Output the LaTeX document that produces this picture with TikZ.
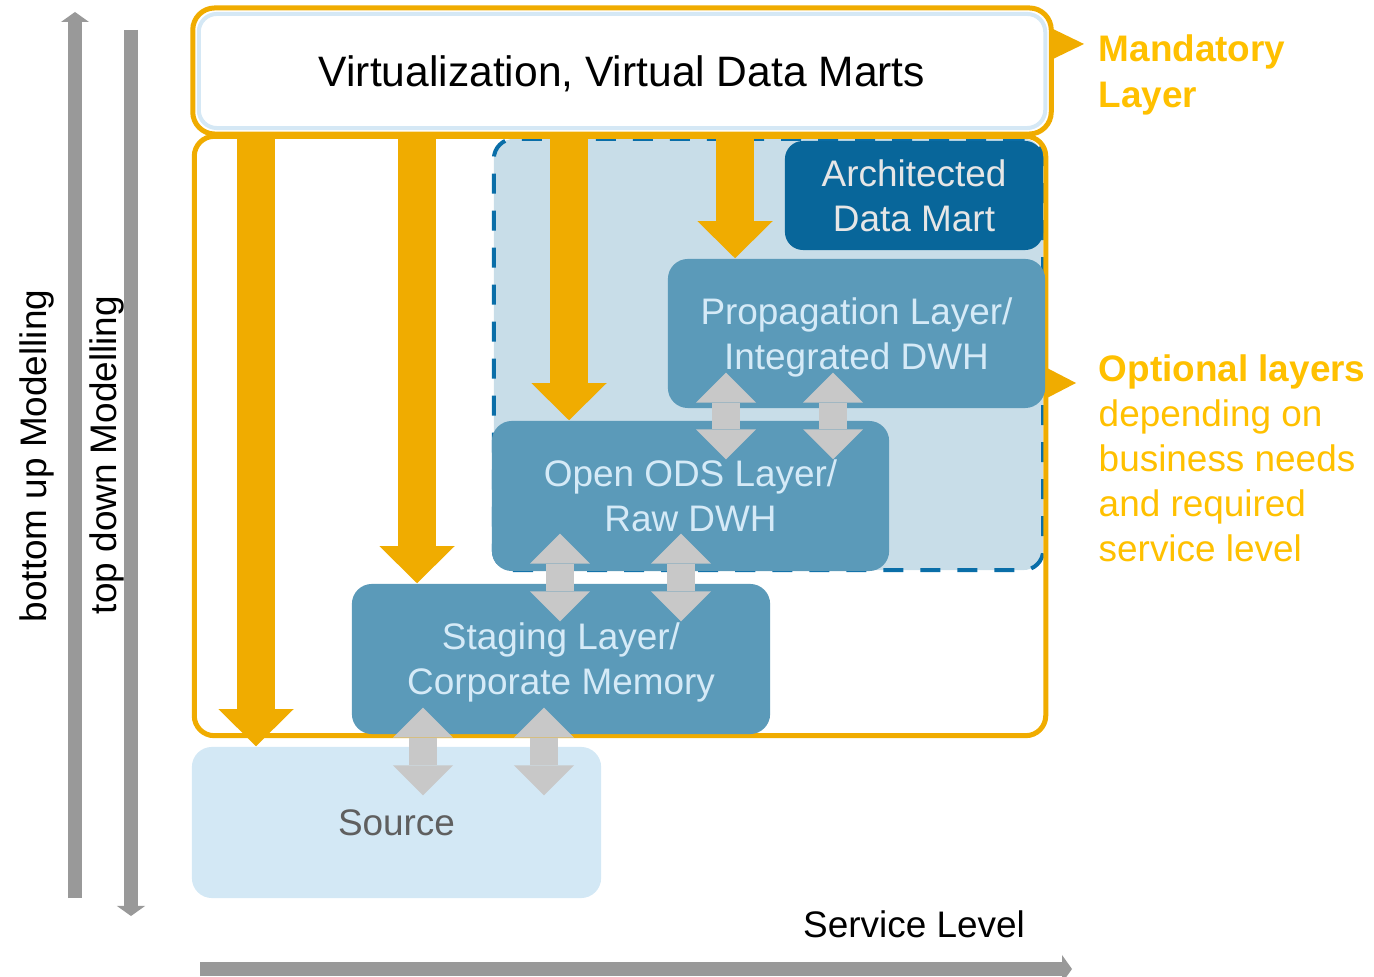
\documentclass[tikz,border=0pt]{standalone}
\usepackage{fontspec}
\setmainfont{Liberation Sans}
\usetikzlibrary{arrows.meta,fit}

\definecolor{dwhorange}{HTML}{F0AC00}
\definecolor{notegold}{HTML}{FFC000}
\definecolor{skyline}{HTML}{D5E8F5}
\definecolor{optfill}{HTML}{C8DDE8}
\definecolor{optline}{HTML}{0A6EA8}
\definecolor{layerfill}{HTML}{5B9AB9}
\definecolor{layertext}{HTML}{D5EAF7}
\definecolor{martfill}{HTML}{08669A}
\definecolor{marttext}{HTML}{E6E6E6}
\definecolor{srcfill}{HTML}{D3E8F5}
\definecolor{srctext}{HTML}{5F5F5F}
\definecolor{syncgray}{HTML}{C8C8C8}
\definecolor{axisgray}{HTML}{999999}

\newcommand{\lfont}{\fontsize{10.5}{12.8}\selectfont}

\begin{document}
\begin{tikzpicture}[x=0.01cm, y=-0.01cm,
    layer/.style={rounded corners=0.2cm, fill=layerfill, text=layertext, align=center, font=\lfont, inner sep=0pt, text depth=0pt},
    feed/.style={draw=dwhorange, line width=0.38cm, -{Triangle[width=0.75cm, length=0.37cm, line width=0pt]}},
    sync/.style={draw=syncgray, line width=0.28cm, {Triangle[width=0.6cm, length=0.3cm, line width=0pt]}-{Triangle[width=0.6cm, length=0.3cm, line width=0pt]}},
    axis/.style={draw=axisgray, line width=0.14cm, -{Triangle[width=0.28cm, length=0.1cm, line width=0pt]}}]
    \useasboundingbox (0,0) rectangle (1374,977);

    % optional area and frames
    \node[fill=optfill, draw=optline, line width=0.04cm, dash pattern=on 0.2cm off 0.17cm, rounded corners=0.2cm,
          minimum width=5.49cm, minimum height=4.31cm, inner sep=0pt] (optarea) at (768.5,354.5) {};
    \node[draw=dwhorange, line width=0.05cm, rounded corners=0.2cm, minimum width=8.51cm, minimum height=5.99cm, inner sep=0pt] (core) at (620,436) {};
    \node[draw=skyline, fill=white, line width=0.04cm, rounded corners=0.18cm, minimum width=8.46cm, minimum height=1.14cm,
          text depth=0pt, font=\fontsize{12.1}{14}\selectfont] (virt) at (622,71) {Virtualization, Virtual Data Marts};
    \node[fit=(virt), inner sep=0.04cm, draw=dwhorange, line width=0.05cm, rounded corners=0.22cm] (mand) {};

    % layers
    \node[layer, fill=martfill, text=marttext, rounded corners=0.18cm, minimum width=2.58cm, minimum height=1.09cm] (mart) at (914,195.5) {Architected\\Data Mart};
    \node[layer, minimum width=3.77cm, minimum height=1.49cm] (prop) at (856.5,333.5) {Propagation Layer/\\Integrated DWH};
    \node[layer, minimum width=3.97cm, minimum height=1.50cm] (ods) at (690.5,496) {Open ODS Layer/\\Raw DWH};
    \node[layer, minimum width=4.18cm, minimum height=1.50cm] (stg) at (561,659) {Staging Layer/\\Corporate Memory};
    \node[layer, fill=srcfill, text=srctext, minimum width=4.09cm, minimum height=1.51cm] (src) at (396.5,822.5) {Source};

    % top down feeds
    \draw[feed] (256,0 |- mand.south) -- (256,0 |- src.north);
    \draw[feed] (417,0 |- mand.south) -- (417,0 |- stg.north);
    \draw[feed] (569,0 |- mand.south) -- (569,0 |- ods.north);
    \draw[feed] (735,0 |- mand.south) -- (735,0 |- prop.north);

    % exchange between layers
    \draw[sync, shorten <=-0.36cm, shorten >=-0.39cm] (726,0 |- prop.south) -- (726,0 |- ods.north);
    \draw[sync, shorten <=-0.36cm, shorten >=-0.39cm] (833,0 |- prop.south) -- (833,0 |- ods.north);
    \draw[sync, shorten <=-0.38cm, shorten >=-0.38cm] (560,0 |- ods.south) -- (560,0 |- stg.north);
    \draw[sync, shorten <=-0.38cm, shorten >=-0.38cm] (681,0 |- ods.south) -- (681,0 |- stg.north);
    \draw[sync, shorten <=-0.27cm, shorten >=-0.49cm] (423,0 |- stg.south) -- (423,0 |- src.north);
    \draw[sync, shorten <=-0.27cm, shorten >=-0.49cm] (544,0 |- stg.south) -- (544,0 |- src.north);

    % axes
    \coordinate (upfoot) at (75,898);
    \coordinate (uphead) at (75,12);
    \coordinate (downfoot) at (131,30);
    \coordinate (downhead) at (131,916);
    \coordinate (svcfoot) at (200,969);
    \coordinate (svchead) at (1072,969);
    \draw[axis] (upfoot) -- (uphead);
    \draw[axis] (downfoot) -- (downhead);
    \draw[axis] (svcfoot) -- (svchead);
    \node[rotate=90, font=\lfont] (bu) at (37,456) {bottom up Modelling};
    \node[rotate=90, font=\lfont] (td) at (107,455) {top down Modelling};
    \node[font=\lfont] (svc) at (914,924) {Service Level};

    % notes
    \fill[dwhorange] (1053,29) -- (1084,44) -- (1053,59) -- cycle;
    \fill[dwhorange] (1047,368) -- (1076,383) -- (1047,398) -- cycle;
    \node[anchor=west, align=left, text=notegold, inner sep=0pt, font=\fontsize{10.5}{13}\selectfont\bfseries] (mnote) at (1098,75) {Mandatory\\Layer};
    \node[anchor=west, align=left, text=notegold, inner sep=0pt, font=\lfont] (onote) at (1098,458)
        {\textbf{Optional layers}\\depending on\\business needs\\and required\\service level};
\end{tikzpicture}
\end{document}
